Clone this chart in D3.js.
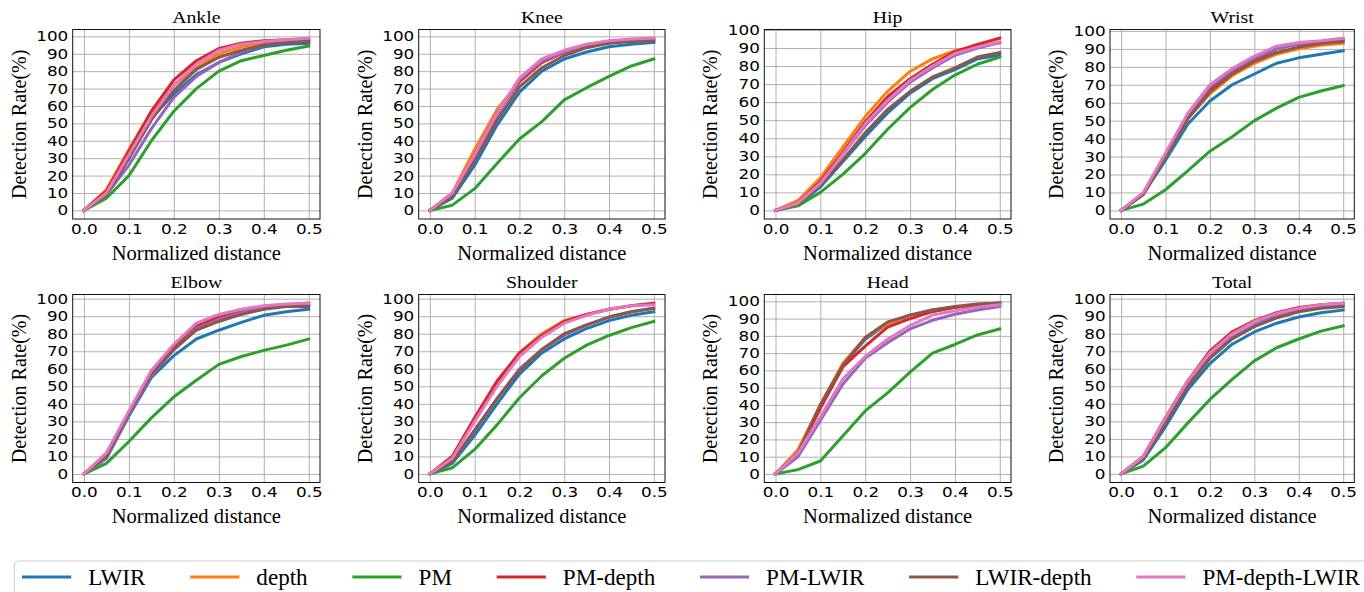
<!DOCTYPE html>
<html>
<head>
<meta charset="utf-8">
<script src="https://cdn.jsdelivr.net/npm/d3@7"></script>
<style>
  body { margin: 0; background: #fff; }
  svg { display: block; }
</style>
</head>
<body>
<svg id="chart" width="1364" height="592"></svg>
<script>
// normalized distance thresholds
var distances = [0, 0.05, 0.1, 0.15, 0.2, 0.25, 0.3, 0.35, 0.4, 0.45, 0.5];
var methods = ['LWIR', 'depth', 'PM', 'PM-depth', 'PM-LWIR', 'LWIR-depth', 'PM-depth-LWIR'];
var colors = ['#1f77b4', '#ff7f0e', '#2ca02c', '#d62728', '#9467bd', '#8c564b', '#e377c2'];
var xTicks = [0, 0.1, 0.2, 0.3, 0.4, 0.5];
var yTicks = [0, 10, 20, 30, 40, 50, 60, 70, 80, 90, 100];

// detection rate (%) per method, same order as `methods`
var ankle = [
  [0, 9, 30, 53, 67, 78, 85, 90, 94, 95.5, 96],
  [0, 12, 35, 57, 72, 82, 90, 94, 96, 97, 98],
  [0, 7, 20, 40, 57, 70, 80, 86, 89, 92, 94.5],
  [0, 11, 34, 57, 75, 86, 93, 96, 97.5, 98, 98.5],
  [0, 9, 26, 47, 65, 77, 85, 91, 95, 97, 97.5],
  [0, 9, 30, 52, 69, 81, 88, 92, 95, 96.5, 97],
  [0, 10, 32, 54, 72, 84, 92, 95.5, 97, 98, 99]
];
var knee = [
  [0, 7, 26, 49, 68, 80, 87, 91, 94, 95.5, 96.5],
  [0, 10, 35, 58, 74, 85, 91, 95, 97, 98, 98.5],
  [0, 3, 12.5, 27, 41, 51, 63.5, 70.5, 77, 83, 87],
  [0, 9, 32, 56, 74, 85, 91, 95, 97, 98, 98.5],
  [0, 9, 30, 55, 75, 86, 91, 95, 97, 98, 98],
  [0, 8, 29, 52, 71, 82, 89, 93.5, 96, 97, 97.5],
  [0, 10, 32, 56, 76, 87, 92, 95.5, 97.5, 98.5, 99]
];
var hip = [
  [0, 3, 13, 27, 41, 54, 65, 73, 78, 84, 86],
  [0, 5.5, 18, 35, 52, 66, 77, 84, 88.5, 91, 93],
  [0, 2.5, 10, 20, 31.5, 45, 57, 67, 75, 81, 85],
  [0, 4, 16, 32, 49, 63, 73, 81, 88, 92, 95.5],
  [0, 4, 15, 31, 47, 60, 71, 79, 86, 90, 93],
  [0, 3.5, 14, 28, 43, 56, 66, 74, 79, 85, 87.5],
  [0, 4, 15, 31, 48, 61, 72, 80, 87, 90.5, 93.5]
];
var wrist = [
  [0, 9, 28, 48, 61, 70, 76, 82, 85, 87, 89],
  [0, 9, 30, 51, 65, 75, 82, 87, 90, 92, 93],
  [0, 3.5, 11.5, 22, 33, 41, 50, 57, 63, 66.5, 69.5],
  [0, 9, 31, 52, 67, 77, 84, 90, 93, 94, 95],
  [0, 9, 31, 53, 69, 78, 85, 90, 92.5, 94, 95],
  [0, 9, 30, 51, 66, 76, 83, 88, 91, 93, 94],
  [0, 10, 32, 54, 70, 79, 86, 91.5, 93.5, 94.5, 96]
];
var elbow = [
  [0, 9, 33, 55, 67.5, 77, 82, 86.5, 90.5, 92.5, 94],
  [0, 11, 35, 58, 72, 84, 89, 93, 95, 96.5, 97],
  [0, 6, 18.5, 32, 44, 53.5, 62.5, 67, 70.5, 73.5, 77],
  [0, 11, 35, 58, 72, 84, 90, 93.5, 95.5, 96.5, 97.5],
  [0, 9, 34, 56, 71, 83, 88, 92, 95, 96, 96.5],
  [0, 10, 35, 57, 71, 82, 87, 91, 94, 95.5, 95.5],
  [0, 12, 36, 59, 74, 86, 91, 94, 96, 97, 97.5]
];
var shoulder = [
  [0, 6, 22, 40, 57, 69, 77, 83, 87.5, 90.5, 92.5],
  [0, 10, 32, 52, 69, 80, 87.5, 91, 94, 96, 97],
  [0, 3.5, 14, 28, 43.5, 56, 66, 73.5, 79, 83.5, 87],
  [0, 10, 32, 53, 69, 79, 87, 91, 94, 96, 97.5],
  [0, 7, 25, 43, 60, 71, 79, 85, 89.5, 92.5, 94.5],
  [0, 7, 25, 43, 59, 71, 80, 85, 89.5, 92.5, 94.5],
  [0, 9, 30, 50, 67, 78, 86, 90.5, 94, 96, 96.5]
];
var head = [
  [0, 13, 40, 63, 78, 87, 92, 95, 96.5, 98, 99],
  [0, 14, 40, 64, 79, 87, 92, 95, 96.5, 98, 99],
  [0, 2.5, 7.5, 22, 36.5, 47, 59, 70, 75, 80.5, 84],
  [0, 12, 38, 62, 74, 85, 90, 94, 96.5, 98, 99],
  [0, 10, 31, 52, 67, 76, 84, 89, 92.5, 95, 97],
  [0, 12, 40, 63, 79, 88, 92, 95, 97, 98.5, 99],
  [0, 12, 33, 55, 68, 78, 86, 92, 94.5, 96.5, 98]
];
var total = [
  [0, 8, 27, 48, 63, 74, 81, 86, 89.5, 92, 93.5],
  [0, 10, 32, 53, 70, 81, 87, 91.5, 94.5, 96, 97],
  [0, 4.5, 15, 29, 42.5, 54, 64.5, 72, 77, 81.5, 84.5],
  [0, 10, 32, 53, 70, 81, 87.5, 92, 95, 96.5, 97.5],
  [0, 9, 30, 51, 67, 78, 85, 90.5, 93.5, 95, 96.5],
  [0, 9, 29, 50, 66, 77, 84, 89, 92.5, 94.5, 95.5],
  [0, 10, 32, 53, 69, 80, 87, 91.5, 94.5, 96.5, 97.5]
];

var titles = ['Ankle', 'Knee', 'Hip', 'Wrist', 'Elbow', 'Shoulder', 'Head', 'Total'];
var joints = [ankle, knee, hip, wrist, elbow, shoulder, head, total];

const SERIF = 'Liberation Serif';
const SANS = 'DejaVu Sans';
const STRETCH = 1.2; // the original figure is a bit wider than tall

// panel frames (tight layout of the original figure)
const colLeft = [72.7, 418.7, 764.3, 1110];
const colWidth = [247.3, 246.3, 246.7, 244.3];
const rowTop = [29.5, 294.5];
const rowHeight = [189.5, 188];

const svg = d3.select('#chart');

function styleTicks(a) {
  a.select('.domain').remove();
  a.attr('font-family', SANS).attr('font-size', 14);
  a.selectAll('text').attr('fill', '#000')
    .attr('transform', `scale(${STRETCH},1)`);
}

joints.forEach(function(rates, i) {
  var col = i % 4, row = Math.floor(i / 4);
  var w = colWidth[col], h = rowHeight[row];

  var x = d3.scaleLinear().domain([-0.025, 0.525]).range([0, w]);
  var maxRate = d3.max(rates, function(s) { return d3.max(s); });
  var y = d3.scaleLinear().domain([-0.05 * maxRate, 1.05 * maxRate]).range([h, 0]);

  var g = svg.append('g').attr('transform', `translate(${colLeft[col]},${rowTop[row]})`);

  // grid
  g.append('g')
    .call(d3.axisLeft(y).tickValues(yTicks).tickSize(-w).tickFormat(''))
    .call(function(a) { a.select('.domain').remove(); a.selectAll('line').attr('stroke', '#b0b0b0'); });
  g.append('g')
    .attr('transform', `translate(0,${h})`)
    .call(d3.axisBottom(x).tickValues(xTicks).tickSize(-h).tickFormat(''))
    .call(function(a) { a.select('.domain').remove(); a.selectAll('line').attr('stroke', '#b0b0b0'); });

  // tick labels
  g.append('g')
    .call(d3.axisLeft(y).tickValues(yTicks).tickSize(0).tickPadding(3.7))
    .call(styleTicks);
  g.append('g')
    .attr('transform', `translate(0,${h})`)
    .call(d3.axisBottom(x).tickValues(xTicks).tickSize(0).tickPadding(5).tickFormat(d3.format('.1f')))
    .call(styleTicks);

  // curves
  var line = d3.line()
    .x(function(d, j) { return x(distances[j]); })
    .y(function(d) { return y(d); });

  g.append('g').selectAll('path')
    .data(rates)
    .enter().append('path')
      .attr('d', line)
      .attr('fill', 'none')
      .attr('stroke', function(d, k) { return colors[k]; })
      .attr('stroke-width', 3)
      .attr('stroke-linejoin', 'round')
      .attr('stroke-linecap', 'square');

  // frame
  g.append('rect')
    .attr('width', w).attr('height', h)
    .attr('fill', 'none').attr('stroke', '#111').attr('stroke-width', 1);

  g.append('text')
    .attr('transform', `translate(${w / 2},-6.5) scale(${STRETCH},1)`)
    .attr('text-anchor', 'middle')
    .attr('font-family', SERIF).attr('font-size', 16.5)
    .text(titles[i]);

  g.append('text')
    .attr('x', w / 2).attr('y', h + 40.5)
    .attr('text-anchor', 'middle')
    .attr('font-family', SERIF).attr('font-size', 20.5)
    .text('Normalized distance');

  g.append('text')
    .attr('transform', `translate(-47,${h / 2}) rotate(-90)`)
    .attr('text-anchor', 'middle')
    .attr('font-family', SERIF).attr('font-size', 20)
    .text('Detection Rate(%)');
});

// LEGEND
var fs = 23.1;
var legend = svg.append('g');
legend.append('rect')
  .attr('x', 14.3).attr('y', 561)
  .attr('width', 1360).attr('height', 60)
  .attr('rx', 4)
  .attr('fill', '#fff').attr('stroke', '#cccccc').attr('stroke-width', 1);

var lx = 23.5, ly = 577;
methods.forEach(function(m, k) {
  legend.append('line')
    .attr('x1', lx).attr('x2', lx + 2 * fs)
    .attr('y1', ly).attr('y2', ly)
    .attr('stroke', colors[k]).attr('stroke-width', 3)
    .attr('stroke-linecap', 'square');
  var t = legend.append('text')
    .attr('x', lx + 2.8 * fs).attr('y', 585.3)
    .attr('font-family', SERIF).attr('font-size', fs)
    .text(m);
  lx += 2.8 * fs + t.node().getComputedTextLength() + 2 * fs;
});
</script>
</body>
</html>
